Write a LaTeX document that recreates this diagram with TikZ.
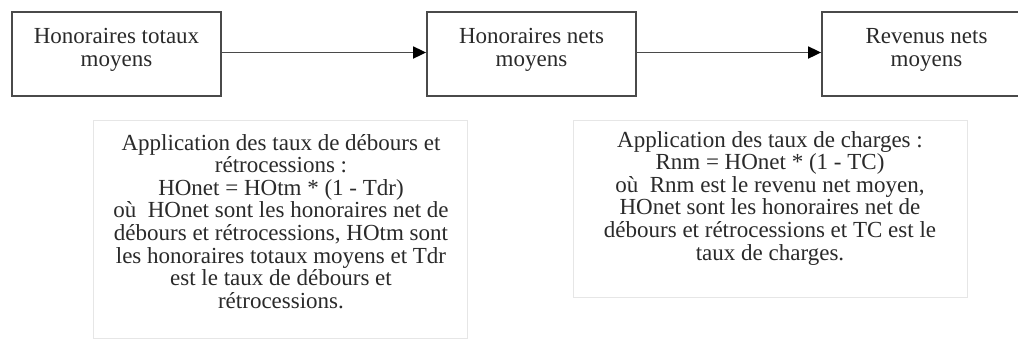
\documentclass[tikz,border=0pt]{standalone}
\usepackage{fontspec}
\setmainfont{Liberation Serif}
\usetikzlibrary{arrows.meta}
\definecolor{boxline}{HTML}{4A4A4A}
\definecolor{faint}{HTML}{E6E6E6}
\definecolor{ink}{HTML}{2A2A2A}
\tikzset{
  stagebox/.style={draw=boxline, line width=1.8pt, minimum width=209pt, minimum height=84pt,
    inner sep=0pt},
  stagetext/.style={align=center, text=ink, inner sep=0pt, font=\fontsize{23}{23}\selectfont},
  notebox/.style={draw=faint, line width=1pt, inner sep=0pt},
  notetext/.style={align=center, text=ink, inner sep=0pt, font=\fontsize{23}{22.6}\selectfont},
  flow/.style={draw=boxline, line width=1.8pt, -{Triangle[length=13pt,width=12pt,color=black]}}
}
\begin{document}
\begin{tikzpicture}[x=1pt,y=-1pt]
\useasboundingbox (0,0) rectangle (1018,341);
\fill[white] (0,0) rectangle (1018,341);
\node[stagebox, label={[stagetext,yshift=4pt]center:Honoraires totaux\\moyens}] (hot) at (116.5,54) {};
\node[stagebox, label={[stagetext,yshift=4pt]center:Honoraires nets\\moyens}] (hon) at (531.5,54) {};
\node[stagebox, label={[stagetext,yshift=4pt]center:Revenus nets\\moyens}] (rnm) at (926.5,54) {};
\draw[flow] ([yshift=1.5pt]hot.east) -- ([yshift=1.5pt]hon.west);
\draw[flow] ([yshift=1.5pt]hon.east) -- ([yshift=1.5pt]rnm.west);
\node[notebox, minimum width=374pt, minimum height=218pt, anchor=north west] (n1) at (93,120) {};
\node[notetext, anchor=north] (t1) at (281,134) {Application des taux de débours et\\rétrocessions :\\HOnet = HOtm * (1 - Tdr)\\où\ \ HOnet sont les honoraires net de\\débours et rétrocessions, HOtm sont\\les honoraires totaux moyens et Tdr\\est le taux de débours et\\rétrocessions.};
\node[notebox, minimum width=394pt, minimum height=177pt, anchor=north west] (n2) at (573,120) {};
\node[notetext, anchor=north] (t2) at (770,131) {Application des taux de charges :\\Rnm = HOnet * (1 - TC)\\où\ \ Rnm est le revenu net moyen,\\HOnet sont les honoraires net de\\débours et rétrocessions et TC est le\\taux de charges.};
\end{tikzpicture}
\end{document}
